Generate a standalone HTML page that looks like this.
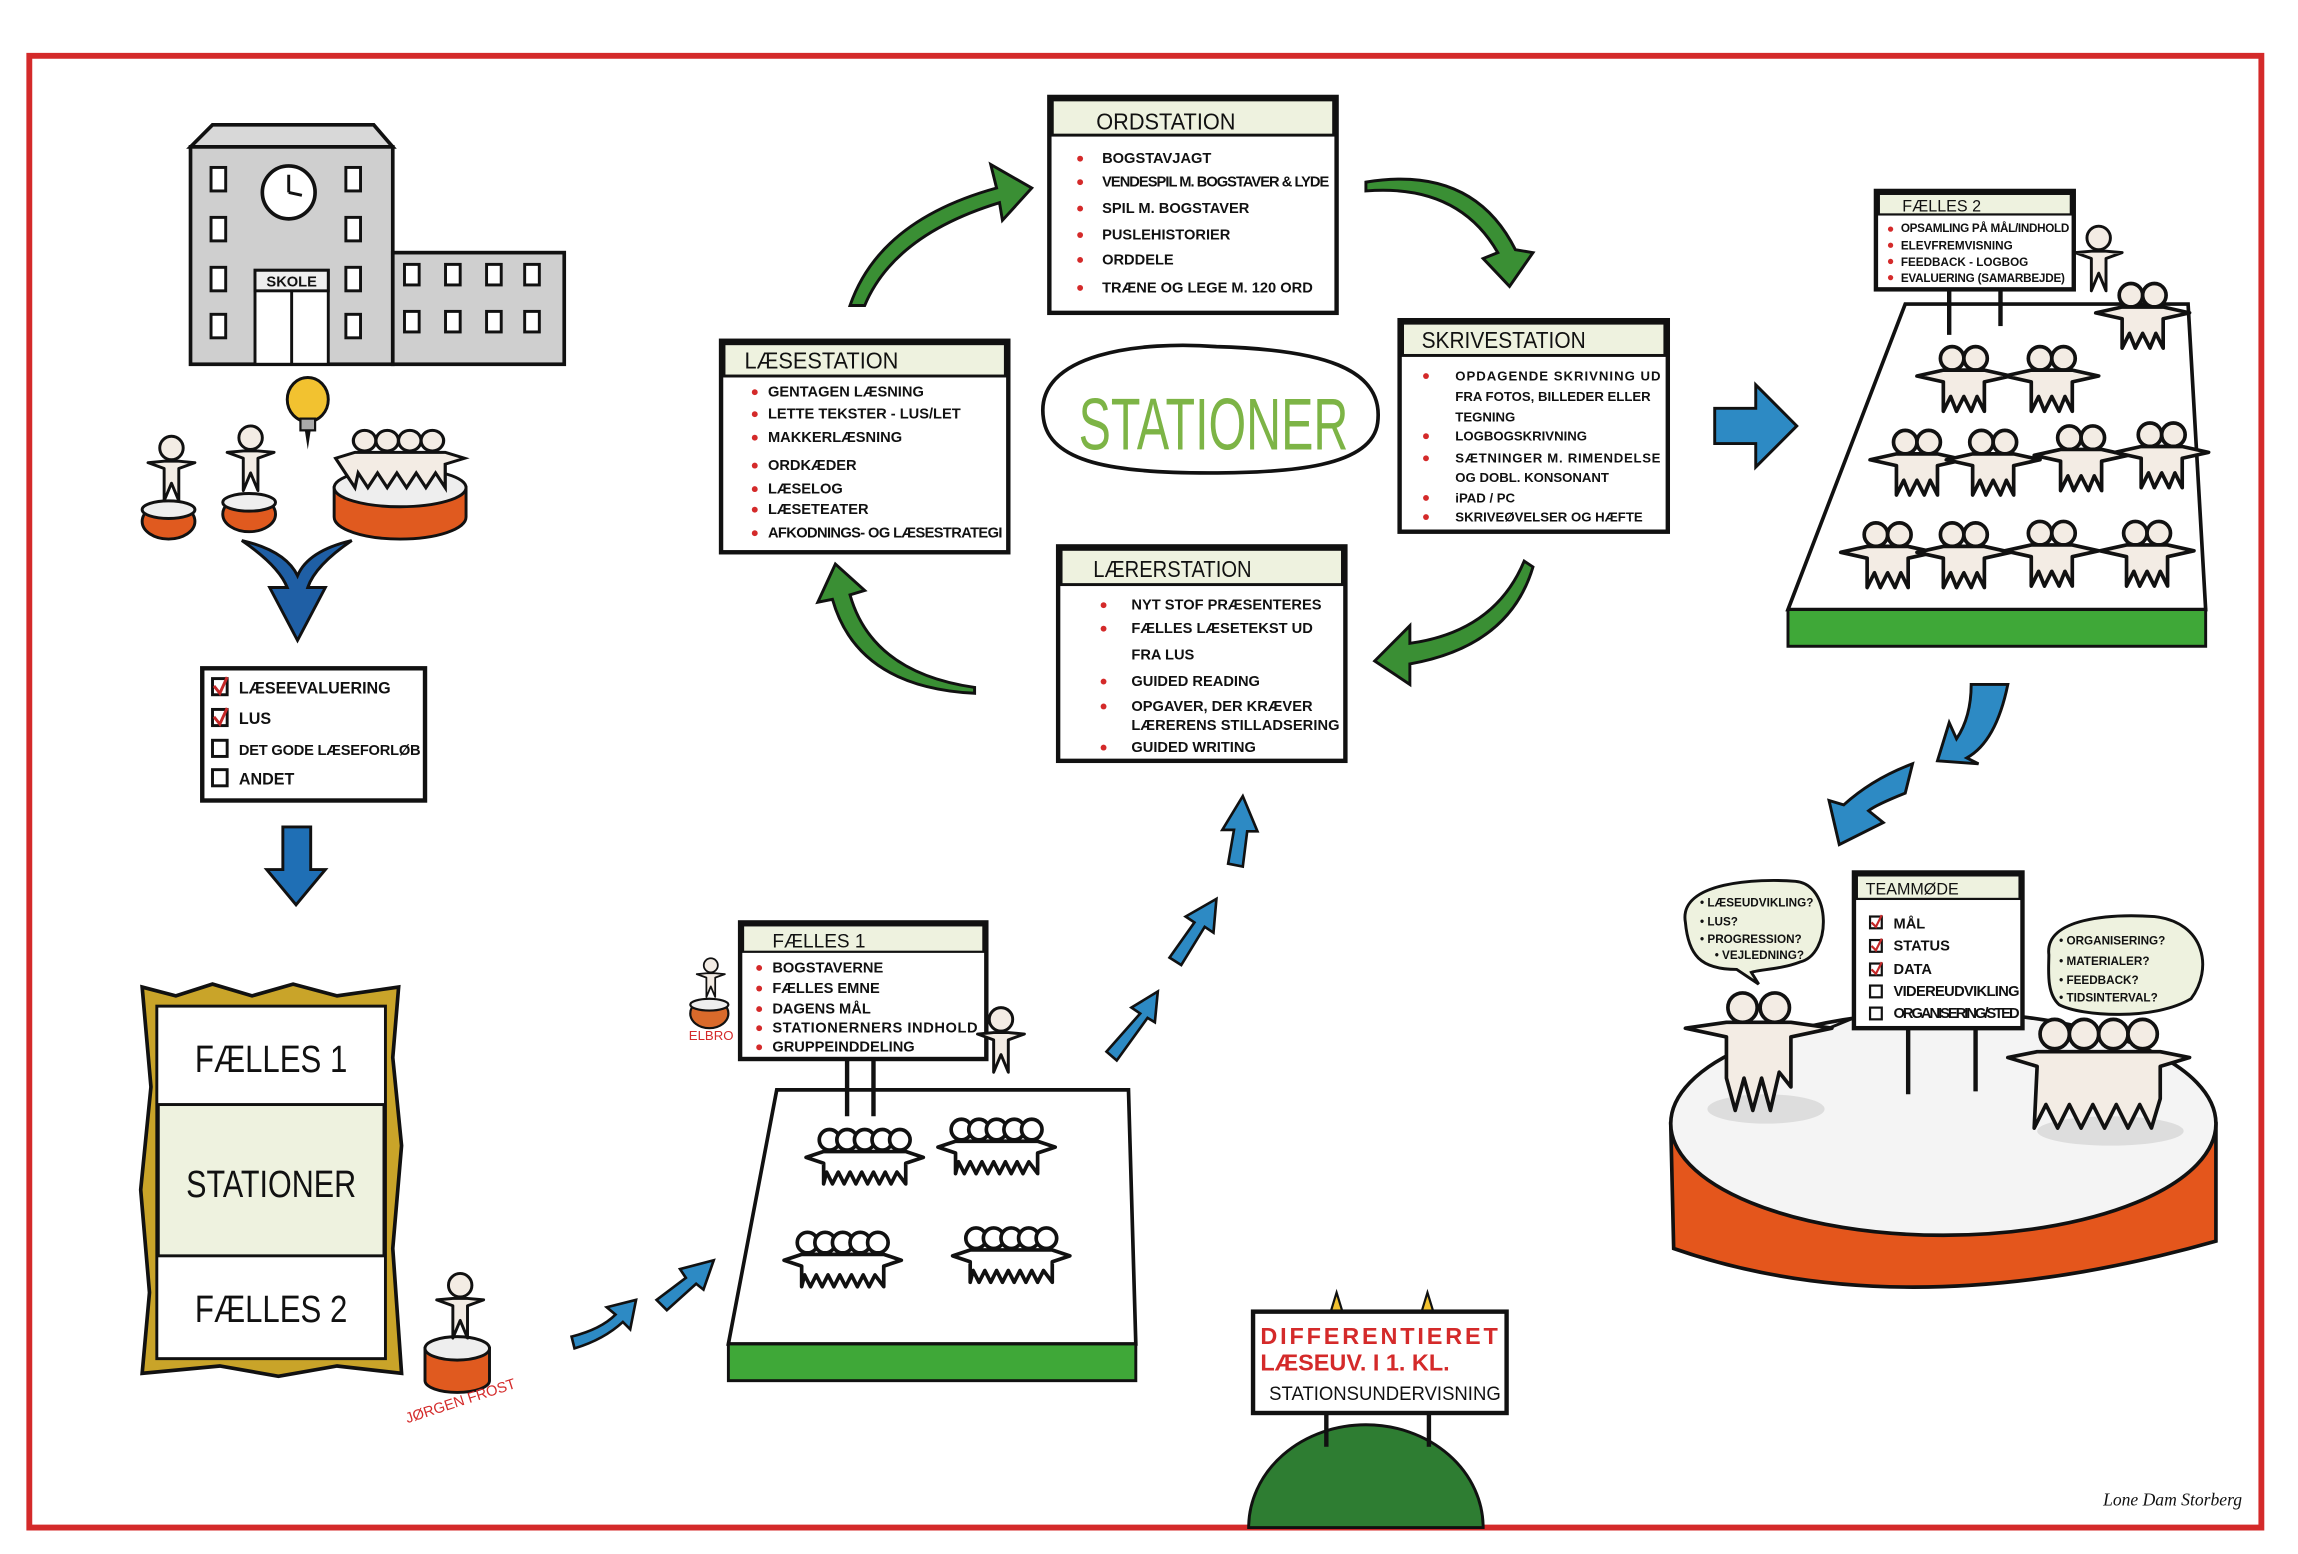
<!DOCTYPE html>
<html><head><meta charset="utf-8"><style>
html,body{margin:0;padding:0;background:#fff}
svg{display:block}
text{font-family:"Liberation Sans",sans-serif;fill:#111}
.h{font-family:"Liberation Sans",sans-serif}
</style></head><body>
<svg width="2298" height="1554" viewBox="0 0 1568 1058" preserveAspectRatio="none" xmlns="http://www.w3.org/2000/svg">
<defs>
<g id="pp">
 <circle cx="-8" cy="-14" r="8" fill="#f3ece4" stroke="#111" stroke-width="2.5"/>
 <circle cx="8" cy="-14" r="8" fill="#f3ece4" stroke="#111" stroke-width="2.5"/>
 <path d="M-32,-2 L-14,-6 L14,-6 L32,-2 L14,2 L14,22 L9,12 L5,22 L0,12 L-5,22 L-9,12 L-14,22 L-14,2 Z" fill="#f3ece4" stroke="#111" stroke-width="2.5" stroke-linejoin="round"/>
</g>
<g id="p1">
 <circle cx="0" cy="-18" r="8" fill="#f3ece4" stroke="#111" stroke-width="2"/>
 <path d="M-16,-8 L-5,-9 L5,-9 L16,-8 L5,-4 L5,18 L0,6 L-5,18 L-5,-4 Z" fill="#f3ece4" stroke="#111" stroke-width="2" stroke-linejoin="round"/>
</g>
<g id="row5">
 <circle cx="-24" cy="-14" r="7" fill="#fff" stroke="#111" stroke-width="2.5"/>
 <circle cx="-12" cy="-14" r="7" fill="#fff" stroke="#111" stroke-width="2.5"/>
 <circle cx="0" cy="-14" r="7" fill="#fff" stroke="#111" stroke-width="2.5"/>
 <circle cx="12" cy="-14" r="7" fill="#fff" stroke="#111" stroke-width="2.5"/>
 <circle cx="24" cy="-14" r="7" fill="#fff" stroke="#111" stroke-width="2.5"/>
 <path d="M-40,-2 L-28,-6 L28,-6 L40,-2 L28,2 L28,16 L22,8 L18,16 L14,8 L10,16 L6,8 L2,16 L-2,8 L-6,16 L-10,8 L-14,16 L-18,8 L-22,16 L-26,8 L-28,16 L-28,2 Z" fill="#fff" stroke="#111" stroke-width="2.5" stroke-linejoin="round"/>
</g>
</defs>

<rect x="0" y="0" width="1568" height="1058" fill="#fff"/>
<rect x="20" y="38" width="1523" height="1002" fill="none" stroke="#d42a2a" stroke-width="4"/>

<!-- school -->
<path d="M130,100 L145,85 L255,85 L268,100 Z" fill="#d8d8d8" stroke="#111" stroke-width="2.5"/>
<rect x="130" y="100" width="138" height="148" fill="#cfcfcf" stroke="#111" stroke-width="2.5"/>
<rect x="268" y="172" width="117" height="76" fill="#cfcfcf" stroke="#111" stroke-width="2.5"/>
<circle cx="197" cy="131" r="18" fill="#fff" stroke="#111" stroke-width="2.5"/>
<path d="M197,131 L197,119 M197,131 L206,133" stroke="#111" stroke-width="2"/>
<g fill="#fff" stroke="#111" stroke-width="2">
<rect x="144" y="114" width="10" height="16"/><rect x="236" y="114" width="10" height="16"/>
<rect x="144" y="148" width="10" height="16"/><rect x="236" y="148" width="10" height="16"/>
<rect x="144" y="182" width="10" height="16"/><rect x="236" y="182" width="10" height="16"/>
<rect x="144" y="214" width="10" height="16"/><rect x="236" y="214" width="10" height="16"/>
<rect x="276" y="180" width="10" height="14"/><rect x="304" y="180" width="10" height="14"/><rect x="332" y="180" width="10" height="14"/><rect x="358" y="180" width="10" height="14"/>
<rect x="276" y="212" width="10" height="14"/><rect x="304" y="212" width="10" height="14"/><rect x="332" y="212" width="10" height="14"/><rect x="358" y="212" width="10" height="14"/>
<rect x="174" y="184" width="50" height="64"/>
</g>
<rect x="174" y="184" width="50" height="14" fill="#eee" stroke="#111" stroke-width="2"/>
<text x="199" y="195" font-size="10" font-weight="bold" text-anchor="middle">SKOLE</text>
<line x1="199" y1="198" x2="199" y2="248" stroke="#111" stroke-width="2"/>

<!-- bulb -->
<ellipse cx="210" cy="272" rx="14" ry="15" fill="#f2c230" stroke="#111" stroke-width="2"/>
<rect x="205" y="285" width="10" height="8" fill="#aaa" stroke="#111" stroke-width="1.5"/>
<path d="M208,293 L210,306 L212,293" fill="#111"/>
<ellipse cx="115" cy="355" rx="18" ry="12" fill="#e05a1f" stroke="#111" stroke-width="2"/>
<ellipse cx="115" cy="347" rx="18" ry="6" fill="#eee" stroke="#111" stroke-width="2"/>
<use href="#p1" x="117" y="323"/>
<ellipse cx="170" cy="350" rx="18" ry="12" fill="#e05a1f" stroke="#111" stroke-width="2"/>
<ellipse cx="170" cy="342" rx="18" ry="6" fill="#eee" stroke="#111" stroke-width="2"/>
<use href="#p1" x="171" y="316"/>
<path d="M228,332 L228,352 A45,15 0 0 0 318,352 L318,332 Z" fill="#e05a1f" stroke="#111" stroke-width="2"/>
<ellipse cx="273" cy="332" rx="45" ry="13" fill="#eee" stroke="#111" stroke-width="2"/>
<g transform="translate(273,320) scale(1.1,1)">
 <circle cx="-22" cy="-20" r="7" fill="#f3ece4" stroke="#111" stroke-width="2"/><circle cx="-8" cy="-20" r="7" fill="#f3ece4" stroke="#111" stroke-width="2"/><circle cx="6" cy="-20" r="7" fill="#f3ece4" stroke="#111" stroke-width="2"/><circle cx="20" cy="-20" r="7" fill="#f3ece4" stroke="#111" stroke-width="2"/>
 <path d="M-40,-8 L-28,-12 L28,-12 L40,-8 L28,-4 L28,12 L22,2 L16,12 L10,2 L4,12 L-2,2 L-8,12 L-14,2 L-20,12 L-26,2 L-28,12 Z" fill="#f3ece4" stroke="#111" stroke-width="2"/>
</g>
<!-- blue V arrow -->
<path d="M165,368 Q190,385 196,400 L184,400 L203,436 L222,400 L210,400 Q215,385 240,368 Q210,375 203,392 Q195,375 165,368 Z" fill="#1f5fa5" stroke="#111" stroke-width="2"/>

<!-- checklist -->
<rect x="138" y="455" width="152" height="90" fill="#fff" stroke="#111" stroke-width="3"/>
<g stroke="#111" stroke-width="2" fill="none"><rect x="145" y="462" width="10" height="11"/><rect x="145" y="483" width="10" height="11"/><rect x="145" y="504" width="10" height="11"/><rect x="145" y="524" width="10" height="11"/></g>
<path d="M146,467 L150,472 L155,461 M146,488 L150,493 L155,482" stroke="#c62828" stroke-width="2" fill="none"/>
<g font-size="11" font-weight="bold"><text x="163" y="472">LÆSEEVALUERING</text><text x="163" y="493">LUS</text><text x="163" y="514" font-size="10" textLength="124">DET GODE LÆSEFORLØB</text><text x="163" y="534">ANDET</text></g>
<path d="M193,563 L212,563 L212,592 L222,592 L202,616 L182,592 L193,592 Z" fill="#1f6fb5" stroke="#111" stroke-width="2"/>

<!-- frame -->
<path d="M97,672 L120,678 L145,670 L172,678 L200,670 L230,678 L272,672 L268,720 L274,780 L268,850 L274,935 L230,930 L190,937 L150,930 L97,935 L102,880 L96,810 L103,740 Z" fill="#c9a429" stroke="#111" stroke-width="2.5"/>
<rect x="107" y="685" width="156" height="240" fill="#fff" stroke="#111" stroke-width="2"/>
<rect x="108" y="752" width="154" height="103" fill="#eef2df" stroke="#111" stroke-width="2"/>
<g font-size="26" text-anchor="middle"><text x="185" y="730" textLength="104" lengthAdjust="spacingAndGlyphs">FÆLLES 1</text><text x="185" y="815" textLength="116" lengthAdjust="spacingAndGlyphs">STATIONER</text><text x="185" y="900" textLength="104" lengthAdjust="spacingAndGlyphs">FÆLLES 2</text></g>

<!-- Jørgen Frost -->
<path d="M290,918 L290,940 A22,8 0 0 0 334,940 L334,918 Z" fill="#e05a1f" stroke="#111" stroke-width="2"/>
<ellipse cx="312" cy="918" rx="22" ry="8" fill="#eee" stroke="#111" stroke-width="2"/>
<use href="#p1" x="314" y="893"/>
<text x="275" y="960" font-size="10" style="fill:#d42a2a" transform="rotate(-18 305 955)">JØRGEN FROST</text>

<g fill="#2d8ac4" stroke="#111" stroke-width="1.8">
<path d="M390,910 Q410,905 420,895 L414,890 L434,885 L430,905 L425,900 Q412,912 392,918 Z"/>
<path d="M448,885 L468,870 L464,864 L487,858 L480,878 L475,874 L455,892 Z"/>
<path d="M755,716 L778,690 L772,686 L790,675 L788,696 L783,693 L762,722 Z"/>
<path d="M798,652 L815,628 L809,624 L830,612 L828,635 L822,631 L806,657 Z"/>
<path d="M838,588 L842,565 L834,565 L848,542 L858,566 L851,566 L848,590 Z"/>
</g>

<!-- Elbro -->
<ellipse cx="484" cy="690" rx="13" ry="10" fill="#d96a2b" stroke="#111" stroke-width="1.5"/>
<ellipse cx="484" cy="684" rx="13" ry="4" fill="#eee" stroke="#111" stroke-width="1.5"/>
<g transform="translate(485,668) scale(0.6)"><use href="#p1"/></g>
<text x="470" y="708" font-size="9" style="fill:#d42a2a">ELBRO</text>

<!-- Fælles 1 platform -->
<path d="M530,742 L770,742 L775,915 L497,915 Z" fill="#fff" stroke="#111" stroke-width="2.5"/>
<rect x="497" y="915" width="278" height="25" fill="#3fa838" stroke="#111" stroke-width="2"/>
<use href="#row5" x="590" y="790"/>
<use href="#row5" x="680" y="783"/>
<use href="#row5" x="575" y="860"/>
<use href="#row5" x="690" y="857"/>
<line x1="578" y1="720" x2="578" y2="760" stroke="#111" stroke-width="3"/>
<line x1="596" y1="720" x2="596" y2="760" stroke="#111" stroke-width="3"/>
<rect x="505" y="628" width="168" height="93" fill="#fff" stroke="#111" stroke-width="3"/>
<rect x="507" y="630" width="164" height="18" fill="#eef2df" stroke="#111" stroke-width="1.5"/>
<text x="527" y="645" font-size="13">FÆLLES 1</text>
<g font-size="10" font-weight="bold"><text x="527" y="662">BOGSTAVERNE</text><text x="527" y="676">FÆLLES EMNE</text><text x="527" y="690">DAGENS MÅL</text><text x="527" y="703" textLength="140">STATIONERNERS INDHOLD</text><text x="527" y="716">GRUPPEINDDELING</text></g>
<g fill="#d42a2a"><circle cx="518" cy="659" r="2"/><circle cx="518" cy="673" r="2"/><circle cx="518" cy="687" r="2"/><circle cx="518" cy="700" r="2"/><circle cx="518" cy="713" r="2"/></g>
<use href="#p1" x="683" y="712"/>

<!-- green curved arrows -->
<g fill="#3a8f34" stroke="#111" stroke-width="2">
<path d="M580,208 Q600,150 680,128 L676,112 L704,128 L684,150 L682,138 Q610,160 590,208 Z"/>
<path d="M932,130 Q995,125 1022,172 L1012,176 L1030,195 L1046,172 L1034,170 Q1005,112 932,124 Z"/>
<path d="M1040,382 Q1020,430 962,438 L962,426 L938,450 L962,466 L962,452 Q1030,440 1046,386 Z"/>
<path d="M665,468 Q595,458 580,405 L590,402 L570,384 L558,410 L568,408 Q585,468 665,472 Z"/>
</g>

<!-- station boxes -->
<g stroke="#111" stroke-width="3">
<rect x="716" y="66" width="196" height="147" fill="#fff"/>
<rect x="492" y="232" width="196" height="144" fill="#fff"/>
<rect x="955" y="218" width="183" height="144" fill="#fff"/>
<rect x="722" y="372" width="196" height="146" fill="#fff"/>
</g>
<g fill="#eef2df" stroke="#111" stroke-width="2">
<rect x="718" y="68" width="192" height="24"/>
<rect x="494" y="234" width="192" height="22"/>
<rect x="957" y="220" width="179" height="22"/>
<rect x="724" y="374" width="192" height="24"/>
</g>
<g font-size="16"><text x="748" y="88" textLength="95" lengthAdjust="spacingAndGlyphs">ORDSTATION</text><text x="508" y="251" textLength="105" lengthAdjust="spacingAndGlyphs">LÆSESTATION</text><text x="970" y="237" textLength="112" lengthAdjust="spacingAndGlyphs">SKRIVESTATION</text><text x="746" y="393" textLength="108" lengthAdjust="spacingAndGlyphs">LÆRERSTATION</text></g>
<g font-size="10" font-weight="bold">
<text x="752" y="111">BOGSTAVJAGT</text><text x="752" y="127" textLength="155">VENDESPIL M. BOGSTAVER &amp; LYDE</text><text x="752" y="145">SPIL M. BOGSTAVER</text><text x="752" y="163">PUSLEHISTORIER</text><text x="752" y="180">ORDDELE</text><text x="752" y="199">TRÆNE OG LEGE M. 120 ORD</text>
<text x="524" y="270">GENTAGEN LÆSNING</text><text x="524" y="285">LETTE TEKSTER - LUS/LET</text><text x="524" y="301">MAKKERLÆSNING</text><text x="524" y="320">ORDKÆDER</text><text x="524" y="336">LÆSELOG</text><text x="524" y="350">LÆSETEATER</text><text x="524" y="366" textLength="160">AFKODNINGS- OG LÆSESTRATEGI</text>
<text x="993" y="259" font-size="9" textLength="140">OPDAGENDE SKRIVNING UD</text><text x="993" y="273" font-size="9">FRA FOTOS, BILLEDER ELLER</text><text x="993" y="287" font-size="9">TEGNING</text><text x="993" y="300" font-size="9">LOGBOGSKRIVNING</text><text x="993" y="315" font-size="9" textLength="140">SÆTNINGER M. RIMENDELSE</text><text x="993" y="328" font-size="9">OG DOBL. KONSONANT</text><text x="993" y="342" font-size="9">iPAD / PC</text><text x="993" y="355" font-size="9">SKRIVEØVELSER OG HÆFTE</text>
<text x="772" y="415">NYT STOF PRÆSENTERES</text><text x="772" y="431">FÆLLES LÆSETEKST UD</text><text x="772" y="449">FRA LUS</text><text x="772" y="467">GUIDED READING</text><text x="772" y="484">OPGAVER, DER KRÆVER</text><text x="772" y="497" textLength="142">LÆRERENS STILLADSERING</text><text x="772" y="512">GUIDED WRITING</text>
</g>
<g fill="#d42a2a">
<circle cx="737" cy="108" r="2"/><circle cx="737" cy="124" r="2"/><circle cx="737" cy="142" r="2"/><circle cx="737" cy="160" r="2"/><circle cx="737" cy="177" r="2"/><circle cx="737" cy="196" r="2"/>
<circle cx="515" cy="267" r="2"/><circle cx="515" cy="282" r="2"/><circle cx="515" cy="298" r="2"/><circle cx="515" cy="317" r="2"/><circle cx="515" cy="333" r="2"/><circle cx="515" cy="347" r="2"/><circle cx="515" cy="363" r="2"/>
<circle cx="973" cy="256" r="2"/><circle cx="973" cy="297" r="2"/><circle cx="973" cy="312" r="2"/><circle cx="973" cy="339" r="2"/><circle cx="973" cy="352" r="2"/>
<circle cx="753" cy="412" r="2"/><circle cx="753" cy="428" r="2"/><circle cx="753" cy="464" r="2"/><circle cx="753" cy="481" r="2"/><circle cx="753" cy="509" r="2"/>
</g>
<path d="M712,285 C705,240 780,232 830,236 C900,238 945,250 940,288 C936,318 880,322 825,322 C760,322 716,315 712,285 Z" fill="#fff" stroke="#111" stroke-width="2.5"/>
<text x="828" y="306" font-size="50" text-anchor="middle" textLength="184" lengthAdjust="spacingAndGlyphs" style="fill:#7db446">STATIONER</text>

<path d="M1170,278 L1198,278 L1198,262 L1226,290 L1198,318 L1198,302 L1170,302 Z" fill="#2d8ac4" stroke="#111" stroke-width="2"/>

<!-- Fælles 2 platform -->
<path d="M1300,207 L1493,207 L1505,415 L1220,415 Z" fill="#fff" stroke="#111" stroke-width="2.5"/>
<rect x="1220" y="415" width="285" height="25" fill="#3fa838" stroke="#111" stroke-width="2"/>
<line x1="1330" y1="195" x2="1330" y2="228" stroke="#111" stroke-width="3"/>
<line x1="1365" y1="195" x2="1365" y2="222" stroke="#111" stroke-width="3"/>
<use href="#pp" x="1340" y="258"/><use href="#pp" x="1400" y="258"/>
<use href="#pp" x="1308" y="315"/><use href="#pp" x="1360" y="315"/><use href="#pp" x="1420" y="312"/><use href="#pp" x="1475" y="310"/>
<use href="#pp" x="1288" y="378"/><use href="#pp" x="1340" y="378"/><use href="#pp" x="1400" y="377"/><use href="#pp" x="1465" y="377"/>
<use href="#pp" x="1462" y="215"/>
<rect x="1280" y="130" width="135" height="67" fill="#fff" stroke="#111" stroke-width="3"/>
<rect x="1282" y="132" width="131" height="14" fill="#eef2df" stroke="#111" stroke-width="1.5"/>
<text x="1298" y="144" font-size="11">FÆLLES 2</text>
<g font-size="8" font-weight="bold"><text x="1297" y="158" textLength="115">OPSAMLING PÅ MÅL/INDHOLD</text><text x="1297" y="170">ELEVFREMVISNING</text><text x="1297" y="181">FEEDBACK - LOGBOG</text><text x="1297" y="192" textLength="112">EVALUERING (SAMARBEJDE)</text></g>
<g fill="#d42a2a"><circle cx="1290" cy="156" r="1.8"/><circle cx="1290" cy="167" r="1.8"/><circle cx="1290" cy="178" r="1.8"/><circle cx="1290" cy="189" r="1.8"/></g>
<use href="#p1" x="1432" y="180"/>

<g fill="#2d8ac4" stroke="#111" stroke-width="2">
<path d="M1345,466 L1370,466 Q1362,505 1342,516 L1350,520 L1322,518 L1330,492 L1335,503 Q1345,488 1345,466 Z"/>
<path d="M1305,520 L1300,540 Q1280,548 1275,552 L1285,560 L1255,575 L1248,545 L1258,548 Q1278,530 1305,520 Z"/>
</g>

<!-- Teammøde cylinder -->
<path d="M1140,765 L1142,850 Q1300,905 1512,845 L1512,765 Z" fill="#e4561c" stroke="#111" stroke-width="2.5"/>
<ellipse cx="1326" cy="765" rx="186" ry="76" fill="#f4f4f4" stroke="#111" stroke-width="2.5"/>
<ellipse cx="1205" cy="755" rx="40" ry="10" fill="#ddd"/>
<ellipse cx="1440" cy="770" rx="50" ry="10" fill="#ddd"/>
<g transform="translate(1200,700)">
 <circle cx="-11" cy="-14" r="10" fill="#f3ece4" stroke="#111" stroke-width="2.5"/><circle cx="11" cy="-14" r="10" fill="#f3ece4" stroke="#111" stroke-width="2.5"/>
 <path d="M-50,0 L-22,-4 L22,-4 L50,0 L22,6 L22,40 L14,30 L8,56 L2,34 L-4,56 L-10,34 L-16,56 L-22,34 L-22,6 Z" fill="#f3ece4" stroke="#111" stroke-width="2.5" stroke-linejoin="round"/>
</g>
<line x1="1248" y1="700" x2="1265" y2="693" stroke="#111" stroke-width="2"/>
<g transform="translate(1432,712)">
 <circle cx="-30" cy="-8" r="10" fill="#f3ece4" stroke="#111" stroke-width="2.5"/><circle cx="-10" cy="-8" r="10" fill="#f3ece4" stroke="#111" stroke-width="2.5"/><circle cx="10" cy="-8" r="10" fill="#f3ece4" stroke="#111" stroke-width="2.5"/><circle cx="30" cy="-8" r="10" fill="#f3ece4" stroke="#111" stroke-width="2.5"/>
 <path d="M-62,8 L-42,4 L42,4 L62,8 L42,14 L42,36 L36,56 L28,40 L20,56 L12,40 L4,56 L-4,40 L-12,56 L-20,40 L-28,56 L-36,40 L-44,56 L-42,14 Z" fill="#f3ece4" stroke="#111" stroke-width="2.5" stroke-linejoin="round"/>
</g>
<line x1="1302" y1="700" x2="1302" y2="745" stroke="#111" stroke-width="3"/>
<line x1="1348" y1="700" x2="1348" y2="743" stroke="#111" stroke-width="3"/>
<rect x="1265" y="594" width="115" height="106" fill="#fff" stroke="#111" stroke-width="3"/>
<rect x="1267" y="596" width="111" height="16" fill="#eef2df" stroke="#111" stroke-width="1.5"/>
<text x="1273" y="609" font-size="11">TEAMMØDE</text>
<g stroke="#111" stroke-width="1.5" fill="none"><rect x="1276" y="624" width="8" height="8"/><rect x="1276" y="640" width="8" height="8"/><rect x="1276" y="656" width="8" height="8"/><rect x="1276" y="671" width="8" height="8"/><rect x="1276" y="686" width="8" height="8"/></g>
<path d="M1277,628 L1280,631 L1284,623 M1277,644 L1280,647 L1284,639 M1277,660 L1280,663 L1284,655" stroke="#c62828" stroke-width="1.5" fill="none"/>
<g font-size="10" font-weight="bold"><text x="1292" y="632">MÅL</text><text x="1292" y="647">STATUS</text><text x="1292" y="663">DATA</text><text x="1292" y="678" textLength="86">VIDEREUDVIKLING</text><text x="1292" y="693" textLength="86">ORGANISERING/STED</text></g>
<path d="M1150,628 C1145,600 1200,598 1225,600 C1250,602 1250,650 1228,655 C1215,660 1200,660 1195,662 L1200,670 L1185,660 C1160,660 1152,650 1150,628 Z" fill="#eef2df" stroke="#111" stroke-width="2"/>
<g font-size="8" font-weight="bold"><text x="1160" y="617">• LÆSEUDVIKLING?</text><text x="1160" y="630">• LUS?</text><text x="1160" y="642">• PROGRESSION?</text><text x="1170" y="653">• VEJLEDNING?</text></g>
<path d="M1398,650 C1395,625 1440,622 1470,624 C1505,628 1510,660 1495,680 C1470,695 1420,692 1405,684 C1396,676 1398,660 1398,650 Z" fill="#eef2df" stroke="#111" stroke-width="2"/>
<g font-size="8" font-weight="bold"><text x="1405" y="643">• ORGANISERING?</text><text x="1405" y="657">• MATERIALER?</text><text x="1405" y="670">• FEEDBACK?</text><text x="1405" y="682">• TIDSINTERVAL?</text></g>

<!-- hill & sign -->
<path d="M852,1040 A80,70 0 0 1 1012,1040 Z" fill="#2e7d32" stroke="#111" stroke-width="2"/>
<line x1="905" y1="962" x2="905" y2="985" stroke="#111" stroke-width="3"/>
<line x1="975" y1="962" x2="975" y2="985" stroke="#111" stroke-width="3"/>
<path d="M908,893 L912,880 L916,893 Z M970,893 L974,880 L978,893 Z" fill="#f2c230" stroke="#111" stroke-width="1.5"/>
<rect x="855" y="893" width="173" height="69" fill="#fff" stroke="#111" stroke-width="3"/>
<g font-size="16" font-weight="bold"><text x="860" y="915" style="fill:#d42a2a" textLength="162">DIFFERENTIERET</text><text x="860" y="933" style="fill:#d42a2a">LÆSEUV. I 1. KL.</text></g>
<text x="866" y="953" font-size="13" textLength="158" lengthAdjust="spacingAndGlyphs">STATIONSUNDERVISNING</text>

<text x="1435" y="1025" font-size="12" font-style="italic" style="font-family:'Liberation Serif',serif">Lone Dam Storberg</text>
</svg>
</body></html>
